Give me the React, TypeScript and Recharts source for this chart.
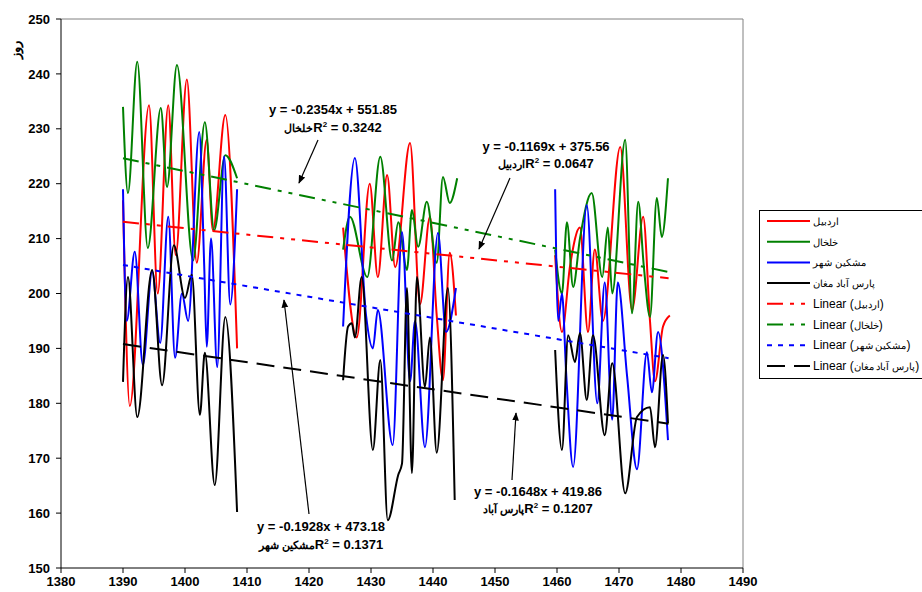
import React from "react";
import { LineChart, Line, XAxis, YAxis, ReferenceLine } from "recharts";

const xTicks = [1380, 1390, 1400, 1410, 1420, 1430, 1440, 1450, 1460, 1470, 1480, 1490];
const yTicks = [150, 160, 170, 180, 190, 200, 210, 220, 230, 240, 250];

// station names
const names = ["اردبیل", "خلخال", "مشکین شهر", "پارس آباد مغان"];
const colors = ["#ff0000", "#008000", "#0000ff", "#000000"];

// null entries split the three record periods
const ardabilYears = [
  1390.0, 1391.1, 1394.2, 1395.6, 1397.3, 1398.5, 1400.3, 1401.9, 1403.5, 1404.5, 1406.5, 1408.4,
  1416,
  1425.5, 1427.7, 1429.8, 1431.1, 1432.6, 1433.9, 1436.3, 1437.9, 1439.5, 1440.6, 1441.6, 1442.7, 1443.7,
  1451,
  1459.7, 1460.8, 1462.1, 1463.7, 1465.0, 1466.1, 1467.4, 1470.2, 1472.1, 1473.9, 1475.0, 1475.8, 1477.1, 1478.2,
];
const ardabilDays = [
  217, 179.5, 234.3, 200, 234.3, 207, 239, 205.6, 228, 211.5, 232.5, 190,
  null,
  212, 192, 220, 203, 221.6, 204.8, 227.4, 198, 214, 196, 184.2, 207.4, 196,
  null,
  207, 193, 205, 212, 193, 208, 195, 226.7, 197, 214, 195, 184, 194, 196,
];

const khalkhalYears = [
  1390.0, 1390.8, 1392.3, 1394.0, 1396.1, 1397.1, 1398.7, 1401.3, 1403.2, 1404.7, 1406.5, 1408.4,
  1416,
  1425.5, 1426.6, 1429.4, 1431.5, 1433.4, 1434.4, 1435.8, 1436.6, 1437.6, 1439.0, 1440.6, 1441.6, 1442.7, 1443.9,
  1451,
  1459.7, 1460.8, 1461.6, 1462.6, 1463.7, 1465.6, 1467.3, 1468.2, 1468.9, 1471.0, 1472.1, 1473.1, 1474.0, 1475.0,
  1476.1, 1476.9, 1477.9,
];
const khalkhalDays = [
  234, 218.3, 242.2, 208.3, 233.8, 219.4, 241.6, 206, 231.2, 211.5, 225.2, 221,
  null,
  208, 214, 203, 224.9, 206, 213, 204.3, 215.2, 208.5, 216.7, 205.6, 221.2, 216.5, 221,
  null,
  208, 200, 213, 201.2, 210, 218.3, 203, 212, 200, 228, 196.4, 216.7, 205, 195.7,
  217.4, 210.3, 221,
];

const meshkinYears = [
  1390.0, 1390.6, 1391.9, 1393.2, 1394.7, 1396.0, 1397.3, 1398.4, 1399.5, 1400.5, 1402.3, 1403.1, 1403.5,
  1404.2, 1405.2, 1406.3, 1407.3, 1408.4,
  1416,
  1425.5, 1427.4, 1429.2, 1430.3, 1431.1, 1433.5, 1435.0, 1436.3, 1437.1, 1438.7, 1440.8, 1442.1, 1443.7,
  1451,
  1459.7, 1460.2, 1460.8, 1461.5, 1462.6, 1464.8, 1466.5, 1467.7, 1468.9, 1469.8, 1471.3, 1472.9, 1474.5,
  1475.3, 1476.3, 1477.9,
];
const meshkinDays = [
  219, 195, 207.6, 187, 204, 191, 214, 188.3, 200, 195, 229.4, 205, 190.3,
  210, 186.6, 225, 198, 219,
  null,
  194, 224.7, 196, 190, 197, 172.4, 211.2, 184, 195, 172, 211, 193, 201,
  null,
  219, 195, 200, 185, 168.4, 216.1, 180, 202, 177, 202, 185, 168, 189.3,
  182, 193, 173.3,
];

const parsabadYears = [
  1390.0, 1390.8, 1392.3, 1394.7, 1396.3, 1398.2, 1400.0, 1401.1, 1402.4, 1403.2, 1404.8, 1406.5, 1408.4,
  1416,
  1425.5, 1426.3, 1426.9, 1427.4, 1428.5, 1430.3, 1431.5, 1432.7, 1434.4, 1435.0, 1435.8, 1436.6, 1437.4,
  1438.7, 1439.5, 1440.6, 1442.4, 1443.5,
  1451,
  1459.7, 1460.8, 1461.8, 1462.9, 1463.7, 1464.8, 1465.8, 1467.7, 1468.9, 1471.0, 1472.9, 1475.0, 1475.8,
  1477.1, 1477.9,
];
const parsabadDays = [
  183.9, 203, 177.5, 204.3, 183.3, 208.8, 199.2, 203.4, 177.9, 189.2, 165.1, 195.7, 160.2,
  null,
  184.2, 194, 194.6, 192, 203, 171.5, 187.9, 158.7, 167, 169, 201, 167.3, 203,
  183, 192, 171, 201, 162.4,
  null,
  189.7, 171.5, 192.4, 187.5, 192.8, 180.6, 192.4, 174.2, 187.3, 163.6, 177.5, 179.3, 172,
  188.8, 176.4,
];

// linear trend lines (slope, intercept, R²) as labelled on the chart
const trendSlopes = [-0.1169, -0.2354, -0.1928, -0.1648];
const trendIntercepts = [375.56, 551.85, 473.18, 419.86];
const trendR2 = ["0.0647", "0.3242", "0.1371", "0.1207"];
const trendRange = [1390, 1478];
const trendDashes = ["16 7 4 7 4 7", "16 7 4 7 4 7", "5 6", "18 9"];

const toPoints = (xs: number[], ys: (number | null)[]) => xs.map((x, i) => ({ x, y: ys[i] }));

const series = [
  toPoints(ardabilYears, ardabilDays),
  toPoints(khalkhalYears, khalkhalDays),
  toPoints(meshkinYears, meshkinDays),
  toPoints(parsabadYears, parsabadDays),
];

const trends = trendSlopes.map((m, i) =>
  trendRange.map((x) => ({ x, y: +(m * x + trendIntercepts[i]).toFixed(2) }))
);

const font = "'Liberation Sans', Arial, sans-serif";
const tickStyle = { fontSize: 13, fontWeight: "bold", fill: "#000", fontFamily: font };

const eqText = (i: number) => `y = ${trendSlopes[i]}x + ${trendIntercepts[i]}`;

// equation boxes: index of series, centre x, baselines, arrow from -> to
const notes = [
  { s: 1, cx: 333, y1: 114, y2: 132, label: "خلخال", arrow: [318, 140, 299, 183] },
  { s: 0, cx: 546, y1: 151, y2: 168, label: "اردبیل", arrow: [510, 178, 479, 249] },
  { s: 2, cx: 321, y1: 531, y2: 549, label: "مشکین شهر", arrow: [309, 514, 284, 300] },
  { s: 3, cx: 538, y1: 496, y2: 513, label: "پارس آباد", arrow: [512, 480, 516, 413] },
];

function Overlay() {
  const rows = [0, 1, 2, 3, 0, 1, 2, 3];
  return (
    <svg
      width={922}
      height={592}
      style={{ position: "absolute", left: 0, top: 0, pointerEvents: "none" }}
      fontFamily={font}
    >
      <defs>
        <marker id="ah" viewBox="0 0 10 10" refX="9" refY="5" markerWidth="7" markerHeight="7" orient="auto">
          <path d="M0,1 L10,5 L0,9 z" fill="#000" />
        </marker>
      </defs>
      <text x={20} y={50} transform="rotate(-90 20 50)" textAnchor="middle" fontSize={13} fontWeight="bold">
        روز
      </text>
      {notes.map((n, i) => (
        <g key={i}>
          <text x={n.cx} y={n.y1} textAnchor="middle" fontSize={13} fontWeight="bold">
            {eqText(n.s)}
          </text>
          <text x={n.cx} y={n.y2} textAnchor="middle" fontSize={13} fontWeight="bold">
            <tspan fontSize={11}>{n.label}</tspan>R<tspan fontSize={8} dy={-5}>2</tspan>
            <tspan dy={5}> = {trendR2[n.s]}</tspan>
          </text>
          <line
            x1={n.arrow[0]}
            y1={n.arrow[1]}
            x2={n.arrow[2]}
            y2={n.arrow[3]}
            stroke="#000"
            strokeWidth={1.2}
            markerEnd="url(#ah)"
          />
        </g>
      ))}
      <rect x={759.5} y={210.5} width={170} height={168} fill="#fff" stroke="#000" strokeWidth={1} />
      {rows.map((s, i) => {
        const y = 221 + i * 20.7;
        const isTrend = i >= 4;
        return (
          <g key={i}>
            <line
              x1={767}
              x2={810}
              y1={y}
              y2={y}
              stroke={colors[s]}
              strokeWidth={2}
              strokeDasharray={isTrend ? trendDashes[s] : undefined}
            />
            <text x={813} y={y + 4} fontSize={12} direction="ltr">
              {isTrend ? "Linear (" : ""}
              <tspan fontSize={10}>{names[s]}</tspan>
              {isTrend ? ")" : ""}
            </text>
          </g>
        );
      })}
    </svg>
  );
}

export default function App() {
  return (
    <div style={{ position: "absolute", left: 0, top: 0, width: 922, height: 592, background: "#fff" }}>
      <LineChart width={922} height={592} margin={{ top: 19, right: 179, bottom: 0, left: 0 }}>
        <XAxis
          type="number"
          dataKey="x"
          domain={[1380, 1490]}
          ticks={xTicks}
          height={24}
          tickSize={5}
          tickMargin={4}
          tick={tickStyle}
          axisLine={{ stroke: "#000" }}
          tickLine={{ stroke: "#000" }}
          allowDataOverflow
        />
        <YAxis
          type="number"
          domain={[150, 250]}
          ticks={yTicks}
          width={61}
          tickSize={5}
          tickMargin={6}
          tick={tickStyle}
          axisLine={{ stroke: "#000" }}
          tickLine={{ stroke: "#000" }}
          allowDataOverflow
        />
        <ReferenceLine y={250} stroke="#808080" />
        <ReferenceLine x={1490} stroke="#808080" />
        {series.map((d, i) => (
          <Line
            key={names[i]}
            data={d}
            dataKey="y"
            type="monotone"
            stroke={colors[i]}
            strokeWidth={2}
            dot={false}
            connectNulls={false}
            isAnimationActive={false}
          />
        ))}
        {trends.map((d, i) => (
          <Line
            key={"trend" + i}
            data={d}
            dataKey="y"
            type="linear"
            stroke={colors[i]}
            strokeWidth={2}
            strokeDasharray={trendDashes[i]}
            dot={false}
            isAnimationActive={false}
          />
        ))}
      </LineChart>
      <Overlay />
    </div>
  );
}
